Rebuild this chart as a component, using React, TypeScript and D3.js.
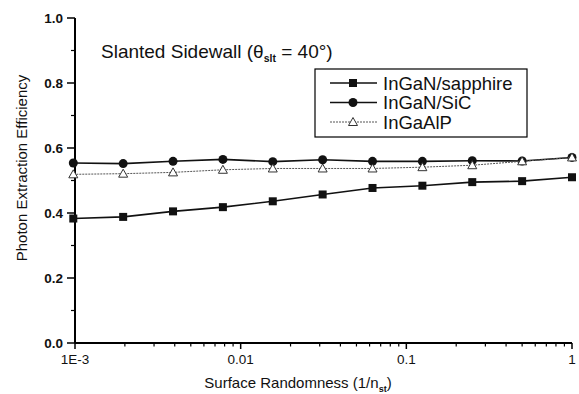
import React from 'react';
import * as d3 from 'd3';

// surface randomness 1/n_st : 1/1024 ... 1
const xs = [1 / 1024, 1 / 512, 1 / 256, 1 / 128, 1 / 64, 1 / 32, 1 / 16, 1 / 8, 1 / 4, 1 / 2, 1];
const sapphire = [0.383, 0.388, 0.405, 0.418, 0.436, 0.457, 0.477, 0.484, 0.495, 0.498, 0.51];
const sic = [0.554, 0.552, 0.559, 0.565, 0.558, 0.564, 0.559, 0.559, 0.561, 0.56, 0.571];
const algaip = [0.519, 0.521, 0.525, 0.533, 0.537, 0.537, 0.537, 0.541, 0.547, 0.559, 0.571];
const yTicks = [0, 0.2, 0.4, 0.6, 0.8, 1.0];
const xTicks = [0.001, 0.01, 0.1, 1];
const xTickLabels = ['1E-3', '0.01', '0.1', '1'];
const legendNames = ['InGaN/sapphire', 'InGaN/SiC', 'InGaAlP'];

const W = 579, H = 394;
const m = { left: 75, right: 7, top: 18, bottom: 51 };
const font = 'Arial, "Liberation Sans", sans-serif';

export default function App() {
  const x = d3.scaleLog().domain([0.001, 1]).range([m.left, W - m.right]);
  const y = d3.scaleLinear().domain([0, 1]).range([H - m.bottom, m.top]);
  const line = d3.line<number>().x((d, i) => x(xs[i])).y(d => y(d));

  const minorX: number[] = [];
  for (let e = -3; e < 0; e++) for (let k = 2; k <= 9; k++) minorX.push(k * Math.pow(10, e));
  const minorY = d3.range(0.1, 1, 0.2);

  const square = (cx: number, cy: number, key: any) => (
    <rect key={key} x={cx - 4} y={cy - 4} width={8} height={8} fill="#111" />
  );
  const circle = (cx: number, cy: number, key: any) => (
    <circle key={key} cx={cx} cy={cy} r={4.5} fill="#111" />
  );
  const tri = (cx: number, cy: number, key: any) => (
    <path key={key} d={`M${cx},${cy - 4.5}L${cx + 4.5},${cy + 3.5}L${cx - 4.5},${cy + 3.5}Z`}
      fill="#fff" stroke="#333" strokeWidth={1} />
  );

  const series = [
    { vals: sapphire, marker: square, stroke: '#111', width: 1.6, dash: undefined },
    { vals: sic, marker: circle, stroke: '#111', width: 1.6, dash: undefined },
    { vals: algaip, marker: tri, stroke: '#555', width: 1, dash: '2,1' },
  ];

  const lg = { x: 315, y: 69, w: 212, h: 68 };

  return (
    <svg width={W} height={H} style={{ position: 'absolute', left: 0, top: 0, background: '#fff' }}
      fontFamily={font}>
      {/* axes */}
      <line x1={m.left} x2={m.left} y1={y(0)} y2={y(1)} stroke="#000" strokeWidth={2} />
      <line x1={m.left} x2={x(1)} y1={y(0)} y2={y(0)} stroke="#000" strokeWidth={2} />
      {yTicks.map(t => (
        <g key={'y' + t}>
          <line x1={m.left - 8} x2={m.left} y1={y(t)} y2={y(t)} stroke="#000" strokeWidth={1.5} />
          <text x={m.left - 12} y={y(t) + 5} textAnchor="end" fontSize={13.5} fontWeight="bold" fill="#111">
            {t.toFixed(1)}
          </text>
        </g>
      ))}
      {minorY.map(t => (
        <line key={'my' + t} x1={m.left - 4} x2={m.left} y1={y(t)} y2={y(t)} stroke="#000" strokeWidth={1.2} />
      ))}
      {xTicks.map((t, i) => (
        <g key={'x' + t}>
          <line x1={x(t)} x2={x(t)} y1={y(0)} y2={y(0) + 6} stroke="#000" strokeWidth={1.5} />
          <text x={x(t)} y={y(0) + 21} textAnchor="middle" fontSize={13.5} fill="#111">
            {xTickLabels[i]}
          </text>
        </g>
      ))}
      {minorX.map(t => (
        <line key={'mx' + t} x1={x(t)} x2={x(t)} y1={y(0)} y2={y(0) + 3.5} stroke="#000" strokeWidth={1.2} />
      ))}

      {/* data */}
      {series.map((s, si) => (
        <g key={'s' + si}>
          <path d={line(s.vals) || ''} fill="none" stroke={s.stroke} strokeWidth={s.width} strokeDasharray={s.dash} />
          {s.vals.map((v, i) => s.marker(x(xs[i]), y(v), i))}
        </g>
      ))}

      {/* title */}
      <text x={101} y={58} fontSize={19} fill="#111">
        Slanted Sidewall (θ<tspan fontSize={10.5} dy={4} fontWeight="bold">slt</tspan>
        <tspan dy={-4}> = 40°)</tspan>
      </text>

      {/* legend */}
      <rect x={lg.x} y={lg.y} width={lg.w} height={lg.h} fill="#fff" stroke="#000" strokeWidth={1.2} />
      {legendNames.map((n, i) => {
        const ly = 83 + i * 19.5;
        const s = series[i];
        return (
          <g key={n}>
            <line x1={330} x2={377} y1={ly} y2={ly} stroke={s.stroke} strokeWidth={s.width} strokeDasharray={s.dash} />
            {s.marker(353, ly, 'l' + i)}
            <text x={383} y={ly + 6.5} fontSize={18.5} fill="#111">{n}</text>
          </g>
        );
      })}

      {/* axis labels */}
      <text transform="translate(27,168) rotate(-90)" textAnchor="middle" fontSize={15} fill="#111">
        Photon Extraction Efficiency
      </text>
      <text x={298} y={388} textAnchor="middle" fontSize={15} fill="#111">
        Surface Randomness (1/n<tspan fontSize={9} dy={4} fontWeight="bold">st</tspan><tspan dy={-4}>)</tspan>
      </text>
    </svg>
  );
}
